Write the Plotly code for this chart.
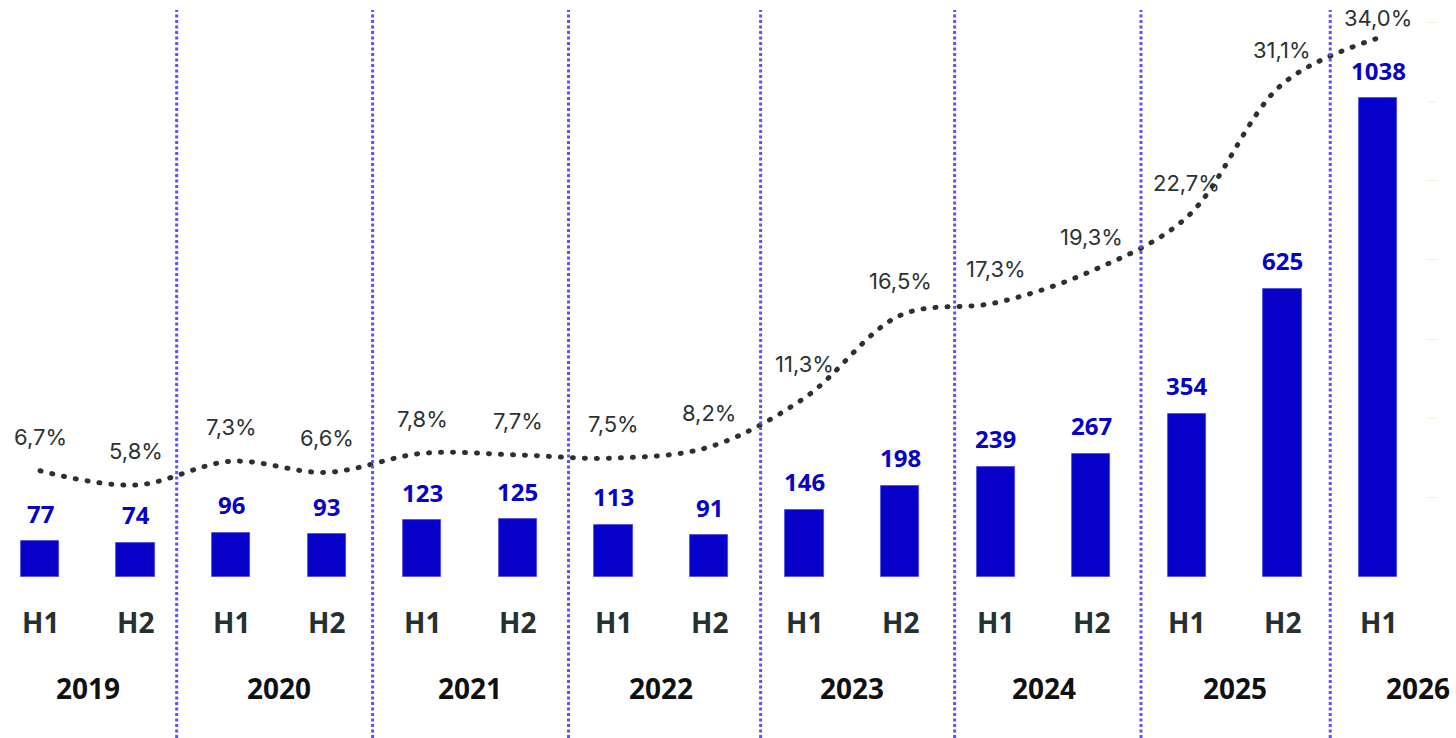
import plotly.graph_objects as go

# ---------------- data ----------------
periods = ["H1", "H2", "H1", "H2", "H1", "H2", "H1", "H2", "H1", "H2", "H1", "H2", "H1", "H2", "H1"]
years = ["2019", "2020", "2021", "2022", "2023", "2024", "2025", "2026"]
values = [77, 74, 96, 93, 123, 125, 113, 91, 146, 198, 239, 267, 354, 625, 1038]
share_pct = [6.7, 5.8, 7.3, 6.6, 7.8, 7.7, 7.5, 8.2, 11.3, 16.5, 17.3, 19.3, 22.7, 31.1, 34.0]
share_labels = ["6,7%", "5,8%", "7,3%", "6,6%", "7,8%", "7,7%", "7,5%", "8,2%",
                "11,3%", "16,5%", "17,3%", "19,3%", "22,7%", "31,1%", "34,0%"]

# ---------------- style ----------------
BAR = "#0600c8"
LINE = "#2a3131"
SEP = "#5e52fb"
TXT_DARK = "#263030"
BOLD_FONT = "Open Sans, Inter, sans-serif"
REG_FONT = "Inter, Open Sans, sans-serif"
W, H = 1456, 738
M_B = 161
PLOT_H = H - M_B
Y1_MAX = 1250.4
Y2_MAX = 36.4

idx = list(range(len(values)))

fig = go.Figure()
fig.add_trace(go.Bar(
    x=idx, y=values, width=0.4,
    marker=dict(color=BAR, line=dict(color="#4a44dc", width=0.8)),
    hoverinfo="skip", showlegend=False,
))
fig.add_trace(go.Scatter(
    x=idx, y=share_pct, yaxis="y2", mode="lines",
    line=dict(color=LINE, width=5, dash="1px,11px", shape="spline", smoothing=1.0),
    hoverinfo="skip", showlegend=False,
))

ann = []
# value labels above bars
for i, v in enumerate(values):
    ann.append(dict(x=i, y=v, xref="x", yref="y", text=f"<b>{v}</b>", showarrow=False,
                    yanchor="middle", yshift=28,
                    font=dict(family=BOLD_FONT, size=24, color=BAR, weight=800)))
# percent labels above line points
for i, (p, lab) in enumerate(zip(share_pct, share_labels)):
    px_y = PLOT_H - p / Y2_MAX * PLOT_H
    shift = min(34, px_y - 18)
    ann.append(dict(x=i, y=p, xref="x", yref="y2", text=lab, showarrow=False,
                    yanchor="middle", yshift=shift,
                    font=dict(family=REG_FONT, size=22, color="#2b3333", weight=400)))
# period labels
for i, p in enumerate(periods):
    ann.append(dict(x=i, y=0, xref="x", yref="paper", text=f"<b>{p}</b>", showarrow=False,
                    yanchor="middle", yshift=-45,
                    font=dict(family=BOLD_FONT, size=28, color=TXT_DARK, weight=800)))
# year labels
for k, yr in enumerate(years):
    xc = 2 * k + 0.5 if k < len(years) - 1 else 2 * k + 0.42
    ann.append(dict(x=xc, y=0, xref="x", yref="paper", text=f"<b>{yr}</b>", showarrow=False,
                    yanchor="middle", yshift=-111,
                    font=dict(family=BOLD_FONT, size=28, color="#111111", weight=800)))

# year separators (between H2 of one year and H1 of next)
sep_x = [1.43, 3.48, 5.53, 7.54, 9.57, 11.52, 13.5]
shapes = []
for sx in sep_x:
    shapes.append(dict(type="line", xref="x", yref="paper", x0=sx, x1=sx,
                       y0=-M_B / PLOT_H, y1=(PLOT_H - 10) / PLOT_H,
                       line=dict(color=SEP, width=3, dash="3px,2.5px")))

fig.update_layout(
    width=W, height=H,
    margin=dict(l=0, r=0, t=0, b=M_B),
    paper_bgcolor="white", plot_bgcolor="white",
    bargap=0,
    xaxis=dict(range=[-0.4186, 14.816], showgrid=False, zeroline=False,
               showticklabels=False, showline=False, fixedrange=True),
    yaxis=dict(range=[0, Y1_MAX], showgrid=False, zeroline=False,
               showticklabels=False, showline=False),
    yaxis2=dict(range=[0, Y2_MAX], overlaying="y", anchor="free", position=1436 / W,
                side="right", showgrid=False, zeroline=False, showticklabels=False,
                showline=False, ticks="inside", ticklen=8, tickwidth=1,
                tickcolor="#f8edd2", tickmode="linear", tick0=0, dtick=5),
    annotations=ann,
    shapes=shapes,
)

post = (
    "document.body.style.margin='0';document.body.style.padding='0';"
    "var st=document.createElement('style');"
    "st.textContent='.scatterlayer .js-line{stroke-linecap:round !important;}';"
    "document.head.appendChild(st);"
)

fig.write_html("out.html", config={"displayModeBar": False}, post_script=post)
